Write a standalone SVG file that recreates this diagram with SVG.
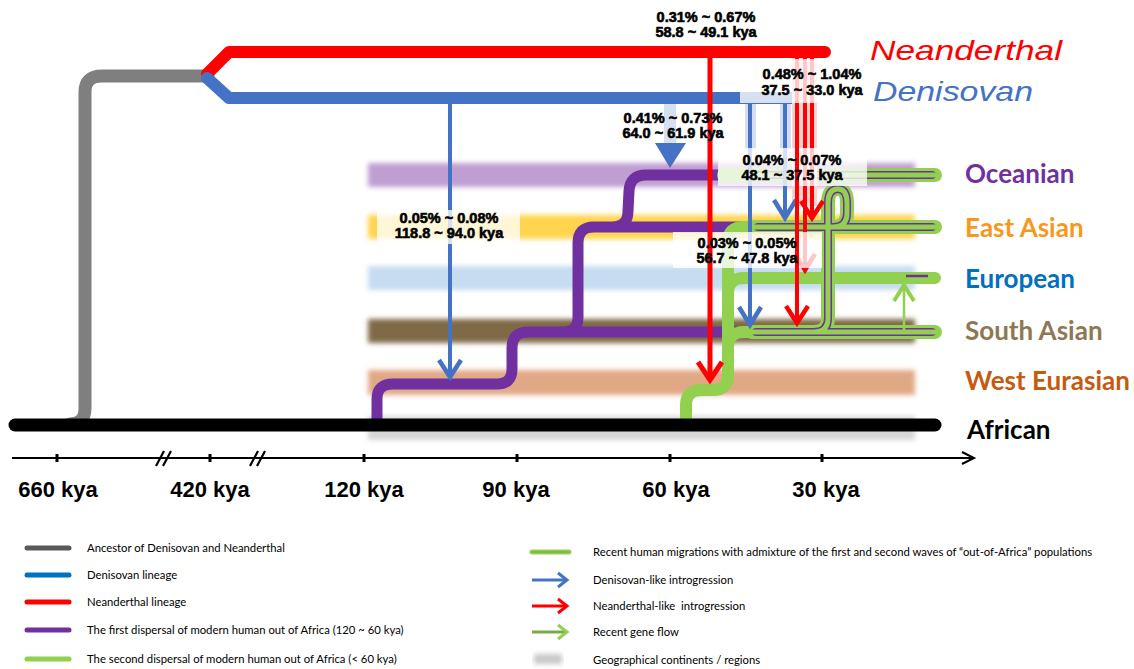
<svg xmlns="http://www.w3.org/2000/svg" width="1134" height="669" viewBox="0 0 1134 669">
<defs>
<filter id="blur" x="-5%" y="-60%" width="110%" height="220%"><feGaussianBlur stdDeviation="2.5"/></filter>
<style>
.ln{fill:none;stroke-linecap:round;stroke-linejoin:round}
.ar{fill:none;stroke-linejoin:miter;stroke-linecap:butt}
.lab{font-family:"Liberation Sans",Arial,sans-serif;font-weight:bold;font-size:14.5px;fill:#000;text-anchor:middle;stroke:#000;stroke-width:0.6}
.pop{font-family:Lato,"Liberation Sans",sans-serif;font-weight:bold;font-size:26px}
.ax{font-family:"Liberation Sans",Arial,sans-serif;font-weight:bold;font-size:22px;text-anchor:middle;fill:#000}
.lg{font-family:Lato,"Liberation Sans",sans-serif;font-size:11.3px;fill:#000;white-space:pre}
.box{fill:#fff;fill-opacity:0.78}
.hom{font-family:"Liberation Sans",Arial,sans-serif;font-style:italic;font-size:28px}
</style>
</defs>
<rect width="1134" height="669" fill="#fff"/>

<g id="regions" filter="url(#blur)">
<rect id="band-oceanian" x="368" y="163" width="547" height="24" fill="#bf9fd2"/>
<rect id="band-eastasian" x="368" y="215" width="547" height="24" fill="#ffd44f"/>
<rect id="band-european" x="368" y="266" width="547" height="24" fill="#c6dcf0"/>
<rect id="band-southasian" x="368" y="319" width="547" height="24" fill="#7f6b47"/>
<rect id="band-westeurasian" x="368" y="370" width="547" height="25" fill="#e1a886"/>
<rect id="band-african" x="368" y="416" width="547" height="24" fill="#d6d6d6"/>
</g>

<g id="connectors">
<!-- lineages -->
<path class="ln" d="M 70 424 Q 85 424 85 408 L 85 92 Q 85 76 102 76 L 208 76" stroke="#7f7f7f" stroke-width="13"/>
<path class="ln" d="M 207 74 L 229 52 L 825 52" stroke="#ff0000" stroke-width="12"/>
<path class="ln" d="M 207 78 L 229 98 L 793 98" stroke="#4472c4" stroke-width="12"/>
<path class="ln" d="M 377 422 L 377 399 Q 377 384 393 384 L 497 384 Q 512 384 512 369 L 512 348 Q 512 332 528 332 L 752 332 M 563 332 Q 578 332 578 317 L 578 243 Q 578 227 594 227 L 748 227 M 612 227 Q 628 227 628 211 L 629 191 Q 630 175 646 175 L 724 175" stroke="#7030a0" stroke-width="11"/>
<path class="ln" d="M 686 421 L 686 405 Q 686 390 702 390 L 713 390 Q 728 390 728 375 L 728 242 Q 728 227 744 227 L 760 227 M 728 294 Q 728 278 744 278 L 935 278 M 728 348 Q 728 332 744 332 L 760 332" stroke="#92d050" stroke-width="12"/>
<path class="ln" d="M 15 425 L 935 425" stroke="#000" stroke-width="13"/>
<!-- admixed double lines -->
<g id="admixed">
<path class="ln" d="M 724 175 L 935 175 M 752 227 L 935 227 M 752 332 L 935 332 M 790 332 L 814 332 Q 828 332 828 318 L 828 203 Q 828 189 838 189 Q 847 189 847 203 L 847 213 Q 847 227 833 227 L 812 227" stroke="#92d050" stroke-width="14"/>
<path class="ln" d="M 758 175 L 932 175 M 758 227 L 932 227 M 756 332 L 932 332 M 790 332 L 814 332 Q 828 332 828 318 L 828 203 Q 828 189 838 189 Q 847 189 847 203 L 847 213 Q 847 227 833 227 L 812 227" stroke="#7030a0" stroke-width="8"/>
<path class="ln" d="M 724 175 L 935 175 M 752 227 L 935 227 M 752 332 L 935 332 M 790 332 L 814 332 Q 828 332 828 318 L 828 203 Q 828 189 838 189 Q 847 189 847 203 L 847 213 Q 847 227 833 227 L 812 227" stroke="#92d050" stroke-width="5"/>
<path d="M 906 276 L 928 276" stroke="#7030a0" stroke-width="2.5"/>
</g>
<!-- halos -->
<rect x="792" y="58" width="25" height="148" fill="#ffd2d2"/>
<rect x="745" y="104" width="11" height="46" fill="#d3def2"/>
<rect x="780" y="104" width="11" height="46" fill="#d3def2"/>
<!-- recent gene flow -->
<path d="M 904 330 L 904 285" stroke="#92d050" stroke-width="2.5"/>
<path class="ar" d="M 894 301 L 904 285 L 914 301" stroke="#92d050" stroke-width="4"/>
<!-- Denisovan-like introgression -->
<g id="den-arrows" stroke="#4472c4">
<path d="M 450 104 L 450 376" stroke-width="4"/>
<path class="ar" d="M 439 360 L 450 377 L 461 360" stroke-width="4.5"/>
<path d="M 750 104 L 750 324" stroke-width="4"/>
<path class="ar" d="M 739 307 L 750 325 L 761 307" stroke-width="4.5"/>
<path d="M 785 104 L 785 217" stroke-width="4"/>
<path class="ar" d="M 774 200 L 785 218 L 796 200" stroke-width="4.5"/>
<path d="M 670 104 L 670 146" stroke-width="12"/>
<polygon points="655,143 686,143 670,168" fill="#4472c4" stroke="none"/>
</g>
<g id="nea-arrows-back" stroke="#ff0000">
<path d="M 805 58 L 805 269" stroke-width="4"/>
<path class="ar" d="M 795 254 L 805 270 L 815 254" stroke-width="4.5"/>
<path d="M 812 58 L 812 217" stroke-width="4"/>
<path class="ar" d="M 801 201 L 812 218 L 823 201" stroke-width="4.5"/>
</g>
</g>

<g id="label-boxes">
<rect class="box" x="615" y="104" width="96" height="39"/>
<rect class="box" x="718" y="148" width="149" height="38"/>
<rect class="box" x="673" y="232" width="149" height="36"/>
<rect class="box" x="377" y="210" width="143" height="34"/>
</g>

<g id="nea-arrows-front" stroke="#ff0000">
<path d="M 710 58 L 710 378" stroke-width="5"/>
<path class="ar" d="M 698 362 L 710 380 L 722 362" stroke-width="5"/>
<path d="M 797 58 L 797 322" stroke-width="4"/>
<path class="ar" d="M 786 306 L 797 323 L 808 306" stroke-width="4.5"/>
</g>
<rect class="box" x="740" y="59" width="128" height="44"/>

<g id="rates">
<text class="lab" x="706" y="22">0.31% ~ 0.67%</text>
<text class="lab" x="706" y="37">58.8 ~ 49.1 kya</text>
<text class="lab" x="812" y="79">0.48% ~ 1.04%</text>
<text class="lab" x="812" y="95">37.5 ~ 33.0 kya</text>
<text class="lab" x="673" y="123">0.41% ~ 0.73%</text>
<text class="lab" x="673" y="138">64.0 ~ 61.9 kya</text>
<text class="lab" x="792" y="165">0.04% ~ 0.07%</text>
<text class="lab" x="792" y="180">48.1 ~ 37.5 kya</text>
<text class="lab" x="747" y="248">0.03% ~ 0.05%</text>
<text class="lab" x="747" y="263">56.7 ~ 47.8 kya</text>
<text class="lab" x="449" y="223">0.05% ~ 0.08%</text>
<text class="lab" x="449" y="238">118.8 ~ 94.0 kya</text>
</g>

<g id="node-neanderthal"><text class="hom" x="870" y="60" fill="#ff0000" textLength="192" lengthAdjust="spacingAndGlyphs">Neanderthal</text></g>
<g id="node-denisovan"><text class="hom" x="873" y="101" fill="#4472c4" textLength="160" lengthAdjust="spacingAndGlyphs">Denisovan</text></g>
<g id="node-oceanian"><text class="pop" x="965" y="183" fill="#7030a0">Oceanian</text></g>
<g id="node-eastasian"><text class="pop" x="965" y="237" fill="#f7981d">East Asian</text></g>
<g id="node-european"><text class="pop" x="965" y="288" fill="#0070c0">European</text></g>
<g id="node-southasian"><text class="pop" x="965" y="340" fill="#8c7853">South Asian</text></g>
<g id="node-westeurasian"><text class="pop" x="965" y="390" fill="#c55a11">West Eurasian</text></g>
<g id="node-african"><text class="pop" x="967" y="439" fill="#000">African</text></g>

<g id="axis" stroke="#000" fill="none">
<path d="M 12 458 L 972 458" stroke-width="2"/>
<path d="M 962 452 L 974 458 L 962 464" stroke-width="2"/>
<path d="M 57 454 V 462 M 210 454 V 462 M 364 454 V 462 M 517 454 V 462 M 670 454 V 462 M 822 454 V 462" stroke-width="3"/>
<path d="M 156 466 L 164 451 M 163 466 L 171 451 M 250 466 L 258 451 M 257 466 L 265 451" stroke-width="2.2"/>
</g>
<g id="axis-labels">
<text class="ax" x="58" y="497">660 kya</text>
<text class="ax" x="210" y="497">420 kya</text>
<text class="ax" x="364" y="497">120 kya</text>
<text class="ax" x="516" y="497">90 kya</text>
<text class="ax" x="676" y="497">60 kya</text>
<text class="ax" x="826" y="497">30 kya</text>
</g>

<g id="legend">
<g class="ln" stroke-width="5">
<path d="M 27 548 L 69 548" stroke="#595959"/>
<path d="M 27 575 L 69 575" stroke="#0070c0"/>
<path d="M 27 602 L 69 602" stroke="#ff0000"/>
<path d="M 27 630 L 69 630" stroke="#7030a0"/>
<path d="M 27 659 L 69 659" stroke="#92d050"/>
</g>
<text class="lg" x="87" y="552">Ancestor of Denisovan and Neanderthal</text>
<text class="lg" x="87" y="579">Denisovan lineage</text>
<text class="lg" x="87" y="606">Neanderthal lineage</text>
<text class="lg" x="87" y="634">The first dispersal of modern human out of Africa (120 ~ 60 kya)</text>
<text class="lg" x="87" y="663">The second dispersal of modern human out of Africa (&lt; 60 kya)</text>

<path class="ln" d="M 532 552 L 569 552" stroke="#92d050" stroke-width="5"/>
<path class="ln" d="M 532 552 L 569 552" stroke="#6f9e3a" stroke-width="1.2"/>
<path d="M 532 580 L 565 580" stroke="#4472c4" stroke-width="3"/>
<path class="ar" d="M 558 573 L 567 580 L 558 587" stroke="#4472c4" stroke-width="3"/>
<path d="M 532 606 L 565 606" stroke="#ff0000" stroke-width="3"/>
<path class="ar" d="M 558 599 L 567 606 L 558 613" stroke="#ff0000" stroke-width="3"/>
<path d="M 532 632 L 565 632" stroke="#7aaa45" stroke-width="3"/>
<path class="ar" d="M 558 625 L 567 632 L 558 639" stroke="#92d050" stroke-width="3"/>
<rect x="534" y="654" width="28" height="10" fill="#c8c8c8" filter="url(#blur)"/>
<text class="lg" x="593" y="556">Recent human migrations with admixture of the first and second waves of “out-of-Africa” populations</text>
<text class="lg" x="593" y="584">Denisovan-like introgression</text>
<text class="lg" x="593" y="610">Neanderthal-like  introgression</text>
<text class="lg" x="593" y="636">Recent gene flow</text>
<text class="lg" x="593" y="664">Geographical continents / regions</text>
</g>
</svg>
